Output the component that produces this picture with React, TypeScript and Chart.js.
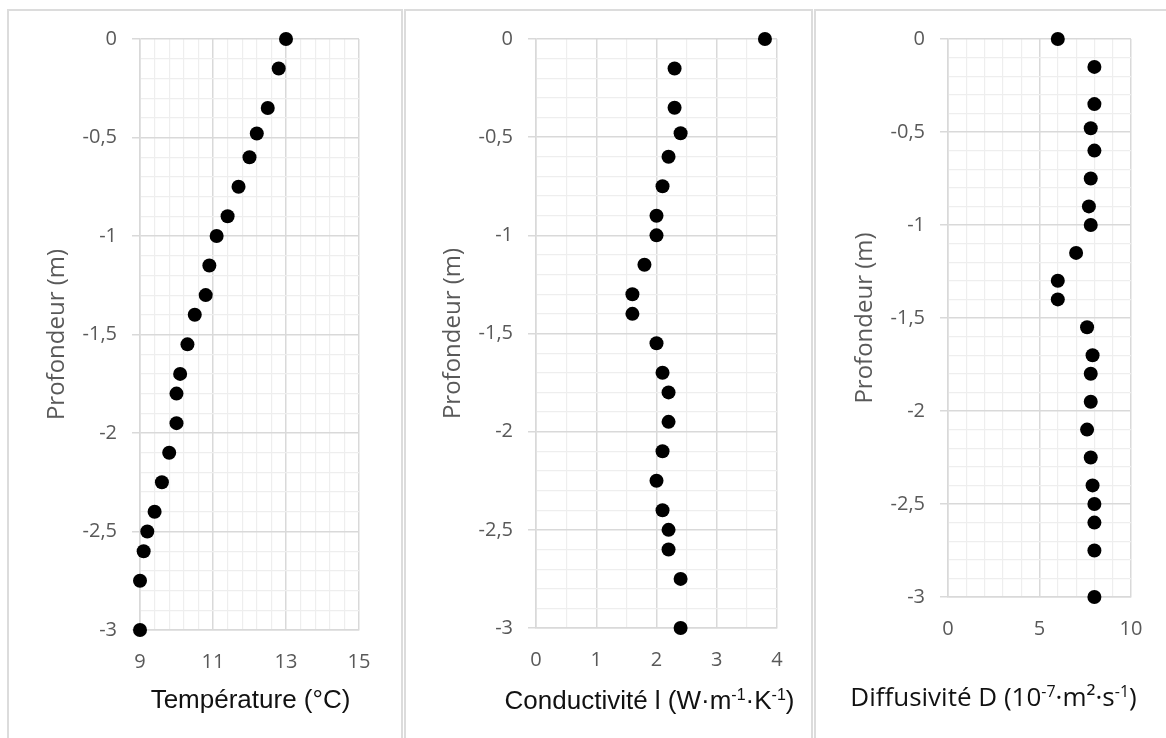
import React, { useEffect, useRef } from 'react';
import { Chart, registerables } from 'chart.js';

Chart.register(...registerables);

// ---------- data ----------
const depths = [0, -0.15, -0.35, -0.48, -0.6, -0.75, -0.9, -1, -1.15, -1.3, -1.4, -1.55, -1.7, -1.8, -1.95, -2.1, -2.25, -2.4, -2.5, -2.6, -2.75, -3];
const temperature = [13.0, 12.8, 12.5, 12.2, 12.0, 11.7, 11.4, 11.1, 10.9, 10.8, 10.5, 10.3, 10.1, 10.0, 10.0, 9.8, 9.6, 9.4, 9.2, 9.1, 9.0, 9.0];
const conductivity = [3.8, 2.3, 2.3, 2.4, 2.2, 2.1, 2.0, 2.0, 1.8, 1.6, 1.6, 2.0, 2.1, 2.2, 2.2, 2.1, 2.0, 2.1, 2.2, 2.2, 2.4, 2.4];
const diffusivity = [6.0, 8.0, 8.0, 7.8, 8.0, 7.8, 7.7, 7.8, 7.0, 6.0, 6.0, 7.6, 7.9, 7.8, 7.8, 7.6, 7.8, 7.9, 8.0, 8.0, 8.0, 8.0];

const depthMajorTicks = [0, -0.5, -1, -1.5, -2, -2.5, -3];
const depthTickLabels = ['0', '-0,5', '-1', '-1,5', '-2', '-2,5', '-3'];
const tempMajorTicks = [9, 11, 13, 15];
const tempTickLabels = ['9', '11', '13', '15'];
const condMajorTicks = [0, 1, 2, 3, 4];
const condTickLabels = ['0', '1', '2', '3', '4'];
const diffMajorTicks = [0, 5, 10];
const diffTickLabels = ['0', '5', '10'];

const depthAxisTitle = 'Profondeur (m)';

type Seg = { t: string; sup?: boolean };
const tempTitle: Seg[] = [{ t: 'Température (°C)' }];
const condTitle: Seg[] = [{ t: 'Conductivité l (W·m' }, { t: '-1', sup: true }, { t: '·K' }, { t: '-1', sup: true }, { t: ')' }];
const diffTitle: Seg[] = [{ t: 'Diffusivité D (10' }, { t: '-7', sup: true }, { t: '·m²·s' }, { t: '-1', sup: true }, { t: ')' }];

// ---------- styling ----------
const GRID_MAJOR = '#d9d9d9';
const GRID_MINOR = '#eeeeee';
const TICK_COLOR = '#595959';
const TICK_FONT = { family: '"Open Sans", sans-serif', size: 20 };

interface PanelCfg {
  values: number[];
  xMin: number;
  xMax: number;
  xStep: number;
  xMajor: number[];
  xLabels: string[];
  canvasLeft: number;
  canvasWidth: number;
  padRight: number;
  xAxisHeight: number;
  title: Seg[];
  titleFamily: string;
  titleSize: number;
  titleDx: number;
  titleDy: number;
}

const near = (a: number, b: number) => Math.abs(a - b) < 1e-6;
const majorIndex = (v: number, majors: number[]) => majors.findIndex((m) => near(m, v));

function makeTitlePlugin(p: PanelCfg) {
  return {
    id: 'richTitle',
    afterDraw(chart: any) {
      const ctx = chart.ctx as CanvasRenderingContext2D;
      const area = chart.chartArea;
      const size = p.titleSize;
      const supSize = Math.round(size * 0.62);
      ctx.save();
      ctx.fillStyle = '#111111';
      ctx.textBaseline = 'alphabetic';
      ctx.textAlign = 'left';
      let total = 0;
      const widths = p.title.map((s) => {
        ctx.font = `${s.sup ? supSize : size}px ${p.titleFamily}`;
        const w = ctx.measureText(s.t).width;
        total += w;
        return w;
      });
      let x = (area.left + area.right) / 2 + p.titleDx - total / 2;
      const y = area.bottom + p.titleDy;
      p.title.forEach((s, i) => {
        ctx.font = `${s.sup ? supSize : size}px ${p.titleFamily}`;
        ctx.fillText(s.t, x, s.sup ? y - size * 0.36 : y);
        x += widths[i];
      });
      ctx.restore();
    },
  };
}

const panels: PanelCfg[] = [
  {
    values: temperature,
    xMin: 9, xMax: 15, xStep: 0.4, xMajor: tempMajorTicks, xLabels: tempTickLabels,
    canvasLeft: 9, canvasWidth: 392, padRight: 42, xAxisHeight: 108,
    title: tempTitle, titleFamily: '"Liberation Sans", Arial, sans-serif', titleSize: 26, titleDx: 1, titleDy: 78,
  },
  {
    values: conductivity,
    xMin: 0, xMax: 4, xStep: 0.5, xMajor: condMajorTicks, xLabels: condTickLabels,
    canvasLeft: 405, canvasWidth: 407, padRight: 35, xAxisHeight: 110,
    title: condTitle, titleFamily: '"Liberation Sans", Arial, sans-serif', titleSize: 26, titleDx: -7, titleDy: 81,
  },
  {
    values: diffusivity,
    xMin: 0, xMax: 10, xStep: 1, xMajor: diffMajorTicks, xLabels: diffTickLabels,
    canvasLeft: 817, canvasWidth: 349, padRight: 35, xAxisHeight: 141,
    title: diffTitle, titleFamily: '"Open Sans", sans-serif', titleSize: 26, titleDx: -46, titleDy: 109,
  },
];

function Panel({ p }: { p: PanelCfg }) {
  const ref = useRef<HTMLCanvasElement | null>(null);
  useEffect(() => {
    if (!ref.current) return;
    const majorX = (c: any) => c.tick && majorIndex(c.tick.value, p.xMajor) >= 0;
    const majorY = (c: any) => c.tick && majorIndex(c.tick.value, depthMajorTicks) >= 0;
    const chart = new Chart(ref.current, {
      type: 'scatter',
      data: {
        datasets: [
          {
            data: depths.map((d, i) => ({ x: p.values[i], y: d })),
            pointRadius: 7,
            pointHoverRadius: 7,
            pointBackgroundColor: '#000000',
            pointBorderColor: '#000000',
            pointBorderWidth: 0,
            showLine: false,
            clip: false as any,
          },
        ],
      },
      options: {
        animation: false,
        responsive: false,
        devicePixelRatio: 1,
        events: [],
        layout: { padding: { top: 29, right: p.padRight, bottom: 0, left: 0 } },
        plugins: { legend: { display: false }, tooltip: { enabled: false } },
        scales: {
          x: {
            type: 'linear',
            position: 'bottom',
            min: p.xMin,
            max: p.xMax,
            afterFit: (s: any) => { s.height = p.xAxisHeight; },
            ticks: {
              stepSize: p.xStep,
              autoSkip: false,
              maxRotation: 0,
              padding: 20,
              color: TICK_COLOR,
              font: TICK_FONT,
              callback: (v: any) => {
                const i = majorIndex(Number(v), p.xMajor);
                return i >= 0 ? p.xLabels[i] : '';
              },
            },
            grid: {
              drawTicks: false,
              color: (c: any) => (majorX(c) ? GRID_MAJOR : GRID_MINOR),
              lineWidth: (c: any) => (majorX(c) ? 1.5 : 1.2),
            },
            border: { color: GRID_MAJOR, width: 1.5 },
          },
          y: {
            type: 'linear',
            min: -3,
            max: 0,
            afterFit: (s: any) => { s.width = 131; },
            ticks: {
              stepSize: 0.1,
              autoSkip: false,
              padding: 15,
              color: TICK_COLOR,
              font: TICK_FONT,
              callback: (v: any) => {
                const i = majorIndex(Number(v), depthMajorTicks);
                return i >= 0 ? depthTickLabels[i] : '';
              },
            },
            grid: {
              tickLength: 8,
              color: (c: any) => (majorY(c) ? GRID_MAJOR : GRID_MINOR),
              tickColor: (c: any) => (majorY(c) ? GRID_MAJOR : 'rgba(0,0,0,0)'),
              lineWidth: (c: any) => (majorY(c) ? 1.5 : 1.2),
            },
            border: { color: GRID_MAJOR, width: 1.5 },
            title: {
              display: true,
              text: depthAxisTitle,
              color: TICK_COLOR,
              font: { family: '"Open Sans", sans-serif', size: 24 },
              padding: { top: 34, bottom: 0 },
            },
          },
        },
      },
      plugins: [makeTitlePlugin(p)],
    } as any);
    return () => chart.destroy();
  }, [p]);
  return (
    <canvas
      ref={ref}
      width={p.canvasWidth}
      height={728}
      style={{ position: 'absolute', left: p.canvasLeft, top: 10, width: p.canvasWidth, height: 728 }}
    />
  );
}

const frames = [
  { left: 7, width: 396 },
  { left: 404, width: 409 },
  { left: 814, width: 400 },
];

export default function App() {
  return (
    <div style={{ position: 'fixed', left: 0, top: 0, width: 1166, height: 738, overflow: 'hidden', background: '#ffffff' }}>
      {frames.map((f, i) => (
        <div
          key={i}
          style={{
            position: 'absolute',
            left: f.left,
            top: 9,
            width: f.width,
            height: 760,
            border: '2px solid #dcdcdc',
            boxSizing: 'border-box',
          }}
        />
      ))}
      {panels.map((p, i) => (
        <Panel key={i} p={p} />
      ))}
    </div>
  );
}
